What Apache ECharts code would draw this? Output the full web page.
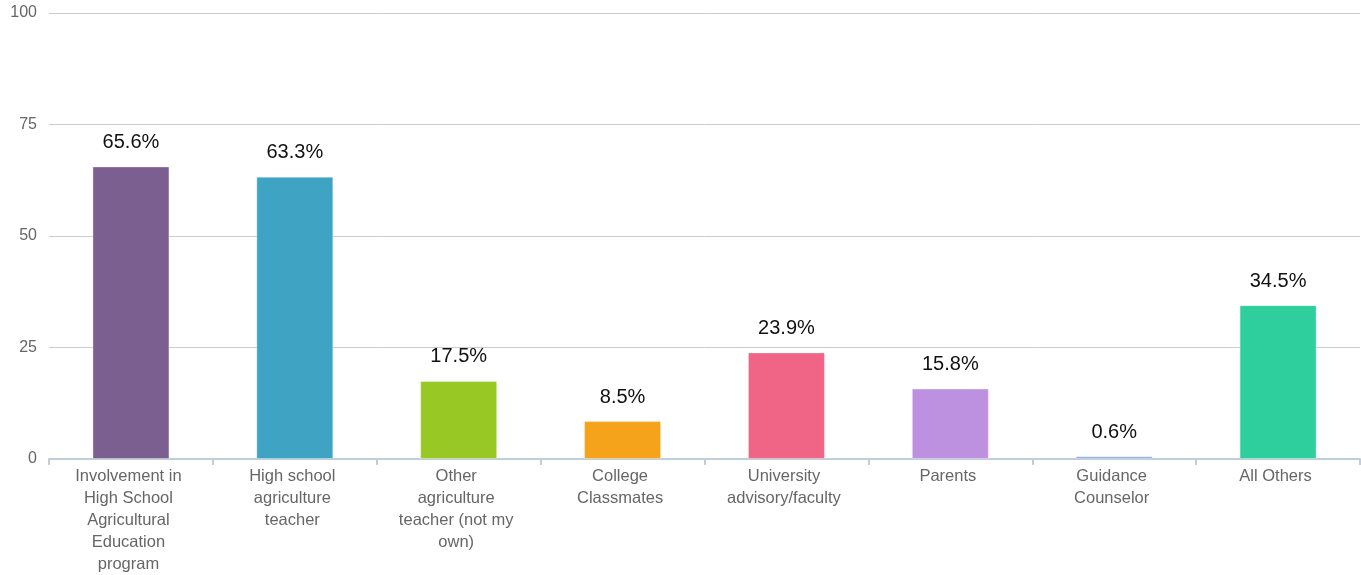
<!DOCTYPE html>
<html><head><meta charset="utf-8">
<script src="https://cdn.jsdelivr.net/npm/echarts@6/dist/echarts.min.js"></script>
<style>html,body{margin:0;padding:0;background:#fff}#c{width:1361px;height:575px}</style>
</head><body><div id="c"></div>
<script>
const categories = ["Involvement in High School Agricultural Education program","High school agriculture teacher","Other agriculture teacher (not my own)","College Classmates","University advisory/faculty","Parents","Guidance Counselor","All Others"];
const tickLabels = ["Involvement in\nHigh School\nAgricultural\nEducation\nprogram","High school\nagriculture\nteacher","Other\nagriculture\nteacher (not my\nown)","College\nClassmates","University\nadvisory/faculty","Parents","Guidance\nCounselor","All Others"];
const values = [65.6, 63.3, 17.5, 8.5, 23.9, 15.8, 0.6, 34.5];
const colors = ["#7b5f91","#3fa3c3","#97c823","#f5a31a","#f06486","#be90e0","#8ca6e6","#2ecf9c"];
const yTicks = [0,25,50,75,100];

const chart = echarts.init(document.getElementById('c'));
chart.setOption({
  animation:false,
  grid:{left:49,right:1,top:13,bottom:116,containLabel:false},
  xAxis:{type:'category',data:categories,
    axisLine:{lineStyle:{color:'#c0cedc',width:2}},
    axisTick:{show:true,length:6,lineStyle:{color:'#c0cedc',width:2}},
    axisLabel:{color:'#666',fontFamily:'Liberation Sans, Arial, sans-serif',fontSize:16.5,lineHeight:22,margin:6,interval:0,
      padding:[0,5,0,0],
      formatter:(v,i)=>tickLabels[i]}},
  yAxis:{type:'value',min:yTicks[0],max:yTicks[yTicks.length-1],interval:25,
    axisLine:{show:false},axisTick:{show:false},
    splitLine:{lineStyle:{color:'#cccccc',width:1}},
    axisLabel:{color:'#666',fontFamily:'Liberation Sans, Arial, sans-serif',fontSize:16,margin:12}},
  series:[{type:'bar',data:values.map((v,i)=>({value:v,itemStyle:{color:colors[i]}})),
    barWidth:77,
    itemStyle:{borderColor:'rgba(255,255,255,0.35)',borderWidth:1},
    label:{show:true,position:'top',distance:14,color:'#111',fontFamily:'Liberation Sans, Arial, sans-serif',fontSize:20,formatter:p=>p.value.toFixed(1)+'%'}}]
});
</script></body></html>
